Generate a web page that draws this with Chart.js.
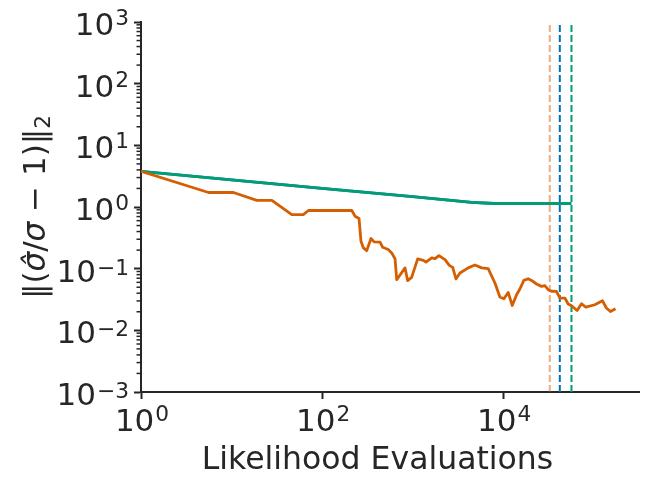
<!DOCTYPE html>
<html>
<head>
<meta charset="utf-8">
<script src="https://cdn.jsdelivr.net/npm/chart.js@4/dist/chart.umd.min.js"></script>
<style>
  html, body { margin: 0; padding: 0; background: #ffffff; }
  #wrap { width: 648px; height: 487px; position: relative; }
</style>
</head>
<body>
<div id="wrap"><canvas id="c" width="648" height="487"></canvas></div>
<script>
// ---------- data ----------
const orangeEvals = [1, 5.57, 10.5, 19, 27.9, 46.3, 62, 70.6,
  213, 231, 256, 269, 286, 311, 347, 375, 437, 467,
  538, 587, 639, 667, 824, 881, 975, 1137, 1313, 1404,
  1622, 1767, 1955, 2276, 2541, 2770, 3010, 3330, 4110, 4870,
  5780, 6830, 8110, 9200, 10180, 11360, 12590, 14060, 15290, 16900,
  18880, 20560, 23340, 26520, 28840, 31400, 34200, 38800, 42270, 48000,
  52200, 56900, 65500, 73300, 81700, 102700, 124800, 138000, 153000, 174000];
const orangeErr = [3.78, 1.72, 1.72, 1.28, 1.28, 0.75, 0.75, 0.877,
  0.877, 0.71, 0.65, 0.278, 0.217, 0.196, 0.308, 0.272, 0.27, 0.222,
  0.204, 0.18, 0.145, 0.0662, 0.103, 0.0638, 0.0722, 0.144, 0.136, 0.128,
  0.149, 0.145, 0.163, 0.14, 0.113, 0.105, 0.068, 0.085, 0.103, 0.115,
  0.103, 0.1, 0.0585, 0.0347, 0.0325, 0.0412, 0.0253, 0.0378, 0.0468, 0.0645,
  0.0687, 0.0645, 0.0564, 0.0516, 0.053, 0.0456, 0.043, 0.0428, 0.0334, 0.0334,
  0.0267, 0.025, 0.021, 0.027, 0.0238, 0.026, 0.0302, 0.023, 0.0202, 0.0224];

const greenEvals = [1, 10, 100, 1000, 4500, 8000, 56800];
const greenErr   = [3.78, 2.76, 2.01, 1.47, 1.19, 1.14, 1.14];

const blueEvals = [1, 10, 100, 1000, 4500, 8000, 42200];
const blueErr   = [3.78, 2.76, 2.01, 1.47, 1.19, 1.14, 1.14];

// vertical dashed cutoffs (orange, blue, green)
const cutoffEvals = [32700, 42200, 56800];
const cutoffColors = ['rgba(213,94,0,0.5)', '#0173b2', '#029e73'];

const xTickValues = [1, 100, 10000];
const yTickValues = [1e-3, 1e-2, 1e-1, 1, 10, 100, 1000];
const xLimits = [1, 316228];
const yLimits = [1e-3, 1e3];
const xTitle = 'Likelihood Evaluations';

// ---------- helpers ----------
const pts = (xs, ys) => xs.map((x, i) => ({x: x, y: ys[i]}));
const TXT = '#262626';
const BASE_FONT = '31px "DejaVu Sans"';
const EXP_FONT = '21.7px "DejaVu Sans"';

function expText(v) {
  const e = Math.round(Math.log10(v));
  return (e < 0 ? '\u2212' + (-e) : String(e));
}

// draws "10^e" ; anchor: 'center' (x = centre) or 'right' (x = right edge)
function drawPow(ctx, v, x, baseline, anchor) {
  const e = Math.round(Math.log10(v));
  const ex = expText(v);
  ctx.font = BASE_FONT;
  const wb = ctx.measureText('10').width;
  ctx.font = EXP_FONT;
  const we = ctx.measureText(ex).width;
  const total = wb + we + 1;
  const left = anchor === 'center' ? x - total / 2 + 1 : x - total;
  ctx.textAlign = 'left';
  ctx.textBaseline = 'alphabetic';
  ctx.font = BASE_FONT;
  ctx.fillText('10', left, baseline);
  ctx.font = EXP_FONT;
  ctx.fillText(ex, left + wb + 1, baseline - (e < 0 ? 7 : 10));
}

const datasets = [
  { data: pts(orangeEvals, orangeErr), borderColor: '#d55e00', borderWidth: 2.8 },
  { data: pts(greenEvals, greenErr), borderColor: '#029e73', borderWidth: 2.8 },
  { data: pts(blueEvals, blueErr), borderColor: '#0173b2', borderWidth: 2.8 }
];
cutoffEvals.forEach((c, i) => {
  datasets.push({
    data: [{x: c, y: yLimits[0]}, {x: c, y: yLimits[1]}],
    borderColor: cutoffColors[i], borderWidth: 2, borderDash: [7, 3]
  });
});
datasets.forEach(d => { d.pointRadius = 0; d.fill = false; d.tension = 0; d.borderJoinStyle = 'round'; d.borderCapStyle = 'butt'; });

// tick labels, minor ticks and axis titles drawn as text
const extras = {
  id: 'extras',
  afterDraw(chart) {
    const ctx = chart.ctx;
    const xs = chart.scales.x;
    const ys = chart.scales.y;
    const area = chart.chartArea;
    ctx.save();
    ctx.strokeStyle = TXT;
    ctx.fillStyle = TXT;
    ctx.lineWidth = 1.5;
    for (let k = -3; k < 3; k++) {
      for (let m = 2; m <= 9; m++) {
        const py = ys.getPixelForValue(m * Math.pow(10, k));
        ctx.beginPath();
        ctx.moveTo(area.left - 4.5, py);
        ctx.lineTo(area.left, py);
        ctx.stroke();
      }
    }
    // tick labels
    xTickValues.forEach(v => drawPow(ctx, v, xs.getPixelForValue(v), area.bottom + 39, 'center'));
    yTickValues.forEach(v => drawPow(ctx, v, area.left - 12, ys.getPixelForValue(v) + 13, 'right'));

    // x title
    ctx.font = '31.5px "DejaVu Sans"';
    ctx.textAlign = 'center';
    ctx.textBaseline = 'alphabetic';
    ctx.fillText(xTitle, 377.5, area.bottom + 77);

    // y title: ‖(σ̂/σ − 1)‖₂
    const cy = (area.top + area.bottom) / 2;
    ctx.translate(45, cy);
    ctx.rotate(-Math.PI / 2);
    ctx.textBaseline = 'alphabetic';
    const normal = '31px "DejaVu Sans"';
    const ital = 'oblique 31px "DejaVu Sans"';
    const parts = [
      {t: '‖(', f: normal}, {t: 'σ̂', f: ital}, {t: '/', f: normal},
      {t: 'σ', f: ital}, {t: ' − 1)‖', f: normal}, {t: '2', f: '21.7px "DejaVu Sans"', dy: 5}
    ];
    let total = 0;
    parts.forEach(p => { ctx.font = p.f; p.w = ctx.measureText(p.t).width; total += p.w; });
    let x = -total / 2;
    ctx.textAlign = 'left';
    parts.forEach(p => { ctx.font = p.f; ctx.fillText(p.t, x, p.dy || 0); x += p.w; });
    ctx.restore();
  }
};

new Chart(document.getElementById('c'), {
  type: 'line',
  data: { datasets: datasets },
  options: {
    responsive: false,
    animation: false,
    devicePixelRatio: 1,
    layout: { padding: { left: 0, top: 22, right: 9, bottom: 0 } },
    plugins: { legend: { display: false }, tooltip: { enabled: false } },
    scales: {
      x: {
        type: 'logarithmic',
        min: xLimits[0], max: xLimits[1],
        afterBuildTicks: s => { s.ticks = xTickValues.map(v => ({value: v})); },
        afterFit: s => { s.height = 95; },
        ticks: { display: false, autoSkip: false },
        grid: { drawOnChartArea: false, drawTicks: true, tickLength: 7, tickWidth: 2, tickColor: TXT },
        border: { display: true, color: TXT, width: 2 }
      },
      y: {
        type: 'logarithmic',
        min: yLimits[0], max: yLimits[1],
        afterBuildTicks: s => { s.ticks = yTickValues.map(v => ({value: v})); },
        afterFit: s => { s.width = 141; },
        ticks: { display: false, autoSkip: false },
        grid: { drawOnChartArea: false, drawTicks: true, tickLength: 7, tickWidth: 2, tickColor: TXT },
        border: { display: true, color: TXT, width: 2 }
      }
    }
  },
  plugins: [extras]
});
</script>
</body>
</html>
